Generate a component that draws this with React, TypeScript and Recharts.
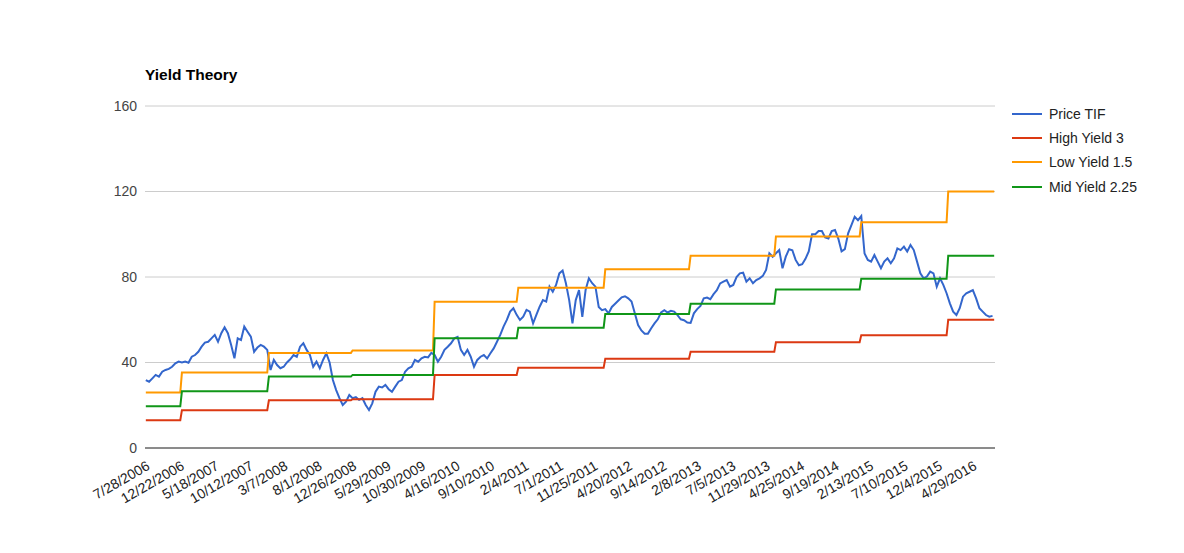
import React from 'react';
import { LineChart, Line, XAxis, YAxis, CartesianGrid, Legend } from 'recharts';

const FONT = "Arial, 'Liberation Sans', sans-serif";

// x-axis category labels (one every 21 weekly categories)
const TICK_LABELS = [
  '7/28/2006', '12/22/2006', '5/18/2007', '10/12/2007', '3/7/2008', '8/1/2008',
  '12/26/2008', '5/29/2009', '10/30/2009', '4/16/2010', '9/10/2010', '2/4/2011',
  '7/1/2011', '11/25/2011', '4/20/2012', '9/14/2012', '2/8/2013', '7/5/2013',
  '11/29/2013', '4/25/2014', '9/19/2014', '2/13/2015', '7/10/2015', '12/4/2015',
  '4/29/2016',
];
const WEEKS_PER_TICK = 21;
const LAST_WEEK = 517;

// Price TIF, sampled every 2 weeks starting at week 0 (7/28/2006)
const PRICE_WEEK_STEP = 2;
const PRICE_TIF = [
  31.8, 31, 32.6, 34.2, 33.4, 35.7, 36.5, 37, 38, 39.6,
  40.4, 40, 40.4, 39.9, 42.7, 43.5, 45, 47.4, 49.3, 49.7,
  51.3, 52.9, 49.7, 53.7, 56.5, 53.7, 48.2, 42, 51.3, 50.5,
  56.8, 54.4, 52.1, 45, 47, 48.2, 47.4, 45.9, 36.5, 41.2,
  38.8, 37.3, 38, 40, 41.5, 43.5, 42.7, 47.4, 49, 45.9,
  43.5, 38, 40.4, 37.3, 41.2, 44.3, 40, 31.8, 27.1, 23.3,
  20.1, 21.7, 24.8, 23.3, 23.8, 22.5, 23.3, 20.1, 17.8, 20.9,
  26.3, 28.7, 28.3, 29.5, 27.5, 26.3, 28.7, 31, 31.8, 35.7,
  37.3, 38, 41.2, 40.4, 42, 42.7, 42.4, 44.5, 43.5, 40.4,
  42.7, 45.9, 47.4, 49, 51.3, 52, 45.9, 43.5, 45.9, 42.7,
  38, 41.2, 42.7, 43.5, 41.9, 44.3, 46.6, 49.7, 52.9, 56.8,
  59.9, 63.8, 65.4, 62.3, 59.9, 61.4, 64.6, 63.8, 58.3, 62.3,
  66.1, 69.2, 68.5, 75.5, 73.1, 76.3, 81.7, 83, 77.1, 69.2,
  58.3, 69.2, 73.9, 61.4, 73.9, 79.4, 77.1, 75.5, 66, 64.5,
  65, 63, 66, 67.5, 69, 70.5, 71, 70, 68.5, 63,
  57.5, 55, 53.5, 53.5, 56, 58.3, 60.2, 63.4, 64.5, 63.4,
  64.2, 63.8, 62.2, 60.2, 59.8, 58.7, 58.5, 63, 65, 66.5,
  70, 70.4, 69.6, 72, 73.8, 77, 77.8, 78.6, 75.5, 76.3,
  80, 81.7, 82, 77.8, 79.4, 77.1, 78.6, 79.4, 80.5, 83.3,
  91.1, 89.5, 91.1, 92.6, 84.1, 89.5, 93, 92.5, 88, 85.5,
  86, 88.5, 92, 100, 100, 101.5, 101.5, 98.5, 98, 101.5,
  102, 98, 92, 93, 100.4, 104.3, 108.2, 106.6, 108.5, 91,
  88, 87.2, 90.3, 87.2, 84.1, 87.2, 88.7, 86.4, 88.7, 93.4,
  92.6, 94.2, 91.9, 95, 92.6, 87.2, 81.7, 79.4, 80.2, 82.5,
  81.7, 75.5, 79.4, 76.3, 72.4, 67.7, 63.8, 62.2, 65.4, 70.8,
  72.4, 73.1, 73.9, 70, 65.4, 63.8, 62.2, 61.4, 61.8,
];

// Yield price levels: week index where each level starts
const YIELD_CHANGE_WEEKS = [0, 22, 75, 126, 176, 227, 280, 332, 384, 436, 489];
const HIGH_YIELD_3 = [13.0, 17.7, 22.3, 22.8, 34.2, 37.5, 41.8, 45.0, 49.5, 52.8, 60.0];
const LOW_YIELD_1_5 = [26.0, 35.3, 44.5, 45.6, 68.4, 75.0, 83.6, 90.0, 99.0, 105.6, 120.0];
const MID_YIELD_2_25 = [19.5, 26.5, 33.4, 34.2, 51.3, 56.3, 62.7, 67.5, 74.2, 79.2, 90.0];

const Y_TICKS = [0, 40, 80, 120, 160];

const SERIES = [
  { key: 'price', name: 'Price TIF', color: '#3366cc' },
  { key: 'high', name: 'High Yield 3', color: '#dc3912' },
  { key: 'low', name: 'Low Yield 1.5', color: '#ff9900' },
  { key: 'mid', name: 'Mid Yield 2.25', color: '#109618' },
];

function levelAt(levels: number[], w: number): number {
  let v = levels[0];
  for (let i = 0; i < YIELD_CHANGE_WEEKS.length; i++) {
    if (w >= YIELD_CHANGE_WEEKS[i]) v = levels[i];
  }
  return v;
}

const DATA: any[] = [];
for (let w = 0; w <= LAST_WEEK; w++) {
  const row: any = {
    w,
    high: levelAt(HIGH_YIELD_3, w),
    low: levelAt(LOW_YIELD_1_5, w),
    mid: levelAt(MID_YIELD_2_25, w),
  };
  const idx = w / PRICE_WEEK_STEP;
  if (Number.isInteger(idx) && idx < PRICE_TIF.length) row.price = PRICE_TIF[idx];
  DATA.push(row);
}

const X_TICKS = TICK_LABELS.map((_, i) => i * WEEKS_PER_TICK);

const XTick = (props: any) => {
  const { x, y, payload } = props;
  const label = TICK_LABELS[Math.round(payload.value / WEEKS_PER_TICK)];
  return (
    <text
      x={x}
      y={y}
      dy={10}
      textAnchor="end"
      transform={`rotate(-30, ${x}, ${y})`}
      fontFamily={FONT}
      fontSize={14}
      fill="#222"
    >
      {label}
    </text>
  );
};

const renderLegend = () => (
  <div style={{ fontFamily: FONT, fontSize: 14, color: '#222' }}>
    {SERIES.map((s) => (
      <div key={s.key} style={{ display: 'flex', alignItems: 'center', height: 24.2 }}>
        <div style={{ width: 30, height: 2, background: s.color, marginRight: 7 }} />
        <span style={{ lineHeight: '16px' }}>{s.name}</span>
      </div>
    ))}
  </div>
);

export default function App() {
  return (
    <div style={{ position: 'absolute', left: 0, top: 0, width: 1184, height: 553, background: '#fff', fontFamily: FONT }}>
      <div
        style={{
          position: 'absolute',
          left: 145,
          top: 66,
          fontSize: 15.5,
          lineHeight: '17px',
          fontWeight: 'bold',
          color: '#000',
          whiteSpace: 'nowrap',
        }}
      >
        Yield Theory
      </div>
      <LineChart width={1184} height={553} data={DATA} margin={{ top: 106, right: 189, bottom: 45, left: 100 }}>
        <CartesianGrid vertical={false} stroke="#cccccc" strokeWidth={1} />
        <XAxis
          dataKey="w"
          type="number"
          domain={[-0.5, LAST_WEEK + 0.5]}
          ticks={X_TICKS}
          interval={0}
          height={60}
          tickLine={false}
          tickSize={0}
          tickMargin={12}
          axisLine={{ stroke: '#333333', strokeWidth: 1 }}
          tick={<XTick />}
        />
        <YAxis
          type="number"
          domain={[0, 160]}
          ticks={Y_TICKS}
          width={45}
          axisLine={false}
          tickLine={false}
          tick={{ fontFamily: FONT, fontSize: 14, fill: '#444' }}
        />
        <Legend
          layout="vertical"
          align="center"
          verticalAlign="middle"
          content={renderLegend}
          wrapperStyle={{ position: 'absolute', left: 1012, top: 102, width: 160, height: 100 }}
        />
        <Line dataKey="price" name="Price TIF" stroke="#3366cc" strokeWidth={2} dot={false} connectNulls isAnimationActive={false} />
        <Line dataKey="high" name="High Yield 3" stroke="#dc3912" strokeWidth={2} dot={false} isAnimationActive={false} />
        <Line dataKey="low" name="Low Yield 1.5" stroke="#ff9900" strokeWidth={2} dot={false} isAnimationActive={false} />
        <Line dataKey="mid" name="Mid Yield 2.25" stroke="#109618" strokeWidth={2} dot={false} isAnimationActive={false} />
      </LineChart>
    </div>
  );
}
